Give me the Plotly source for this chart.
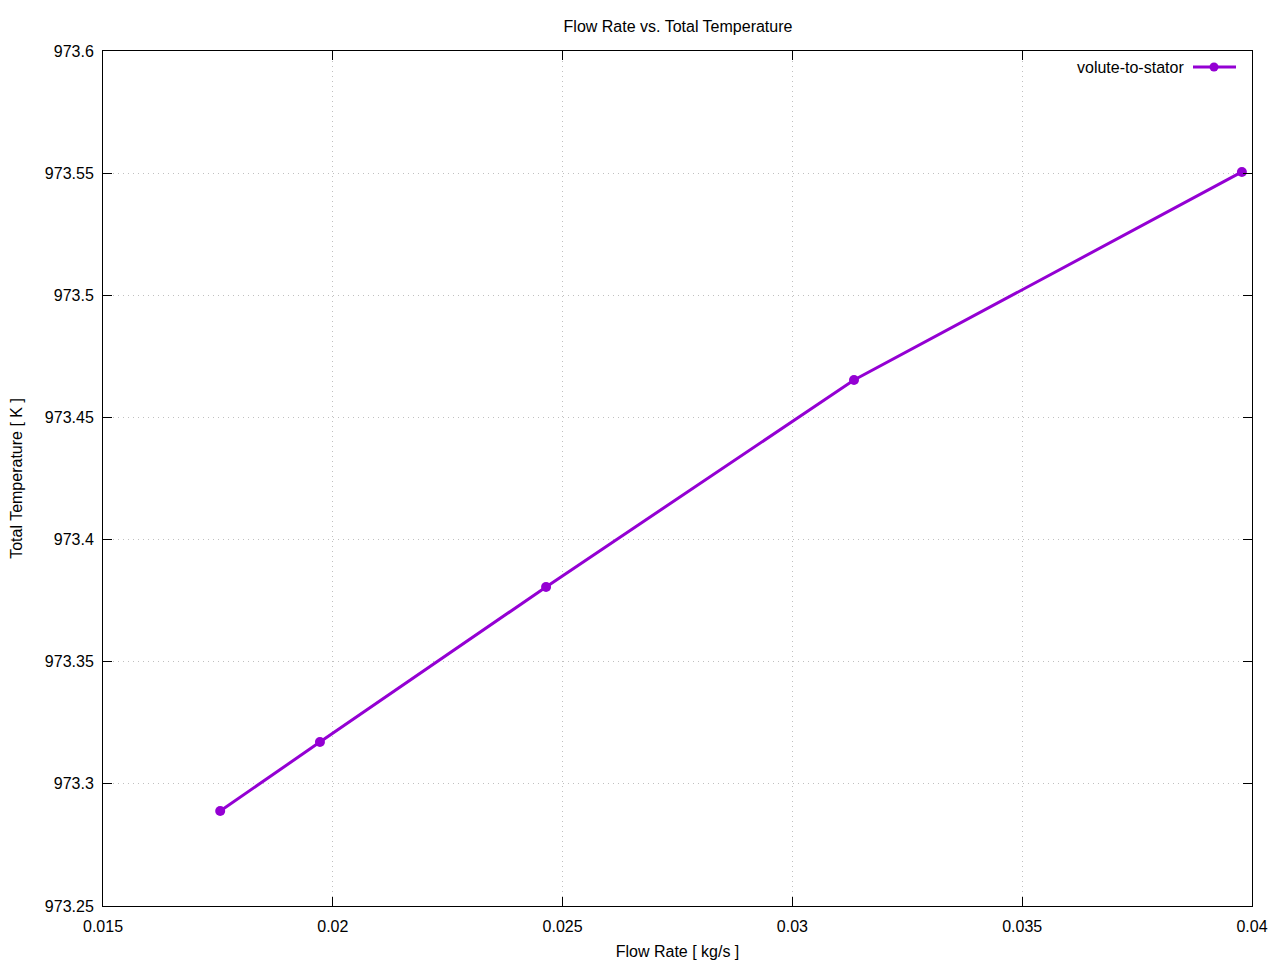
import plotly.graph_objects as go

# Data
flow_rate = [0.01755, 0.01972, 0.02464, 0.03134, 0.03978]
total_temperature = [973.2889, 973.3171, 973.3806, 973.4653, 973.5505]
series_name = "volute-to-stator"

x_ticks = [0.015, 0.02, 0.025, 0.03, 0.035, 0.04]
x_tick_labels = ["0.015", "0.02", "0.025", "0.03", "0.035", "0.04"]
y_ticks = [973.25, 973.3, 973.35, 973.4, 973.45, 973.5, 973.55, 973.6]
y_tick_labels = ["973.25", "973.3", "973.35", "973.4", "973.45", "973.5", "973.55", "973.6"]

color = "#9400D3"
font_family = "Liberation Sans, Arial, sans-serif"
fs = 16

# figure is placed at (8, 8) by the page body margin
W, H = 1272, 952
ML, MR, MT, MB = 95, 28, 43, 54
PW, PH = W - ML - MR, H - MT - MB

fig = go.Figure()
fig.add_trace(go.Scatter(
    x=flow_rate, y=total_temperature, mode="lines+markers", name=series_name,
    line=dict(color=color, width=3), marker=dict(color=color, size=10),
    showlegend=False,
))

axis_common = dict(
    showline=True, linecolor="black", linewidth=1, mirror="ticks",
    ticks="inside", ticklen=9, tickcolor="black", tickwidth=1,
    showgrid=True, gridcolor="#c0c0c0", griddash="1px,4px", gridwidth=1,
    zeroline=False, automargin=False,
    tickfont=dict(size=fs, color="black", family=font_family),
)

fig.update_xaxes(range=[0.015, 0.04], tickvals=x_ticks, ticktext=x_tick_labels, ticklabelstandoff=6,
                 title=dict(text="Flow Rate [ kg/s ]", font=dict(size=fs, color="black", family=font_family), standoff=13),
                 **axis_common)
fig.update_yaxes(range=[973.25, 973.6], tickvals=y_ticks, ticktext=y_tick_labels, ticklabelstandoff=5,
                 title=dict(text="Total Temperature [ K ]", font=dict(size=fs, color="black", family=font_family), standoff=19),
                 **axis_common)

# gnuplot-style legend (text left of the sample line)
ly = (906 - 67) / 855
fig.add_annotation(xref="paper", yref="paper", x=(1186 - 103) / PW, y=ly, xanchor="right", yanchor="middle",
                   text=series_name, showarrow=False,
                   font=dict(size=fs, color="black", family=font_family))
fig.add_shape(type="line", xref="paper", yref="paper", x0=(1193 - 103) / PW, x1=(1236 - 103) / PW, y0=ly, y1=ly,
              line=dict(color=color, width=3))
cx = (1214 - 103) / PW
fig.add_shape(type="circle", xref="paper", yref="paper",
              x0=cx - 4.5 / PW, x1=cx + 4.5 / PW,
              y0=ly - 4.5 / PH, y1=ly + 4.5 / PH,
              fillcolor=color, line=dict(color=color, width=0))

fig.update_layout(
    width=W, height=H,
    margin=dict(l=ML, r=MR, t=MT, b=MB),
    paper_bgcolor="white", plot_bgcolor="white",
    title=dict(text="Flow Rate vs. Total Temperature", x=(678 - 8) / W, xanchor="center",
               y=1 - 18 / H, yanchor="middle",
               font=dict(size=fs, color="black", family=font_family)),
    font=dict(family=font_family, color="black"),
)

fig.write_html("out.html")
